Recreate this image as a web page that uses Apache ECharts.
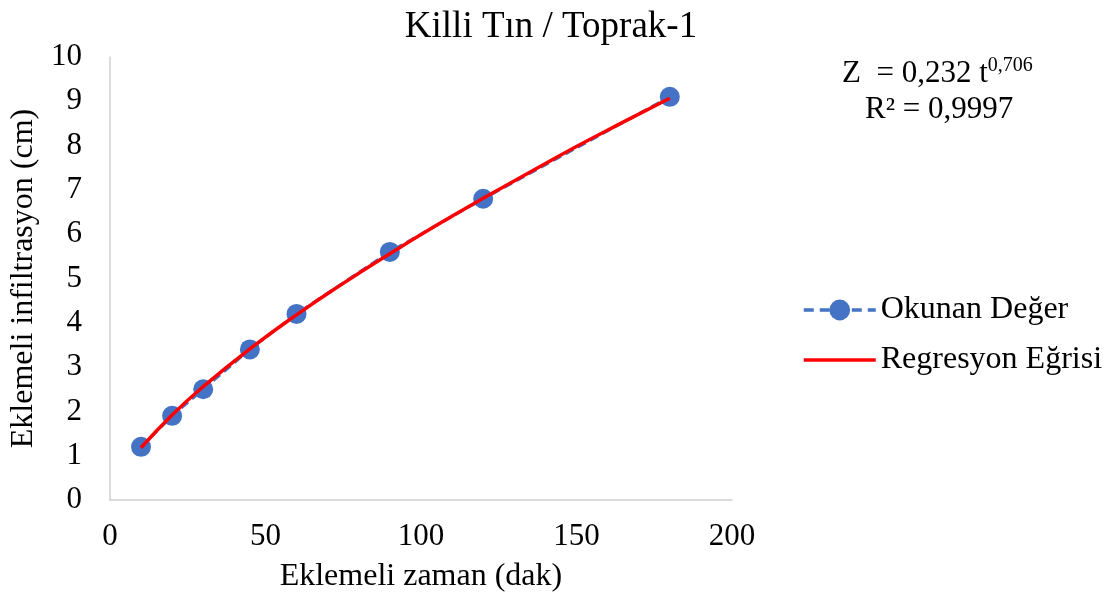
<!DOCTYPE html>
<html>
<head>
<meta charset="utf-8">
<script src="https://cdn.jsdelivr.net/npm/echarts@6/dist/echarts.min.js"></script>
<style>
html,body{margin:0;padding:0;background:#fff;}
#chart{width:1103px;height:602px;}
</style>
</head>
<body>
<div id="chart"></div>
<script>
// Observed data (Okunan Değer)
const obsTime = [10, 20, 30, 45, 60, 90, 120, 180];
const obsInfil = [1.2, 1.9, 2.5, 3.4, 4.2, 5.6, 6.8, 9.1];
// Regression curve (Regresyon Eğrisi)
const regTime = [10, 20, 30, 45, 60, 75, 90, 105, 120, 135, 150, 165, 180];
const regInfil = [1.18, 1.92, 2.56, 3.41, 4.18, 4.89, 5.56, 6.20, 6.81, 7.40, 7.98, 8.53, 9.07];
const xTicks = [0, 50, 100, 150, 200];
const yTicks = [0, 1, 2, 3, 4, 5, 6, 7, 8, 9, 10];

const FONT = '"Liberation Serif", "Times New Roman", serif';
const chart = echarts.init(document.getElementById('chart'));
chart.setOption({
  backgroundColor: '#ffffff',
  animation: false,
  title: {
    text: 'Killi Tın / Toprak-1',
    left: 546, top: 4, textAlign: 'center',
    textStyle: {fontFamily: FONT, fontSize: 37, fontWeight: 'normal', color: '#000'}
  },
  grid: {left: 109, right: 371, top: 57, bottom: 102, containLabel: false},
  xAxis: {
    type: 'value', min: xTicks[0], max: xTicks[xTicks.length - 1], interval: 50,
    name: 'Eklemeli zaman (dak)', nameLocation: 'middle', nameGap: 61,
    nameTextStyle: {fontFamily: FONT, fontSize: 32, color: '#000'},
    axisLine: {show: true, lineStyle: {color: '#D0D0D0', width: 1.5}},
    axisTick: {show: false},
    splitLine: {show: false},
    axisLabel: {fontFamily: FONT, fontSize: 31, color: '#000', margin: 21}
  },
  yAxis: {
    type: 'value', min: yTicks[0], max: yTicks[yTicks.length - 1], interval: 1,
    name: 'Eklemeli infiltrasyon (cm)', nameLocation: 'middle', nameGap: 68,
    nameTextStyle: {fontFamily: FONT, fontSize: 32, color: '#000'},
    axisLine: {show: true, lineStyle: {color: '#D0D0D0', width: 1.5}},
    axisTick: {show: false},
    splitLine: {show: false},
    axisLabel: {fontFamily: FONT, fontSize: 31, color: '#000', margin: 28}
  },
  legend: {
    orient: 'vertical', left: 797, top: 289, itemGap: 18,
    itemWidth: 72, itemHeight: 26,
    textStyle: {fontFamily: FONT, fontSize: 32, color: '#000'},
    data: [
      {name: 'Okunan Değer', lineStyle: {width: 3.5, type: [10, 6]}},
      {name: 'Regresyon Eğrisi', icon: 'path://M0,0L100,0L100,5L0,5Z'}
    ]
  },
  graphic: [
    {
      type: 'text', left: 842, top: 56,
      style: {
        rich: {
          n: {fontFamily: FONT, fontSize: 31, fill: '#000'},
          s: {fontFamily: FONT, fontSize: 20, fill: '#000', verticalAlign: 'top', padding: [0, 0, 16, 0]}
        },
        text: '{n|Z  = 0,232 t}{s|0,706}'
      }
    },
    {
      type: 'text', left: 865, top: 94,
      style: {text: 'R² = 0,9997', font: '31px ' + FONT, fill: '#000'}
    }
  ],
  series: [
    {
      name: 'Okunan Değer', type: 'line',
      data: obsTime.map((t, i) => [t, obsInfil[i]]),
      symbol: 'circle', symbolSize: 20,
      itemStyle: {color: '#4472C4'},
      lineStyle: {color: '#4472C4', width: 3, type: [9, 5]},
      z: 2
    },
    {
      name: 'Regresyon Eğrisi', type: 'line',
      data: regTime.map((t, i) => [t, regInfil[i]]),
      smooth: true, showSymbol: false, symbol: 'none',
      itemStyle: {color: '#FF0000'},
      lineStyle: {color: '#FF0000', width: 3.5},
      z: 3
    }
  ]
});
</script>
</body>
</html>
